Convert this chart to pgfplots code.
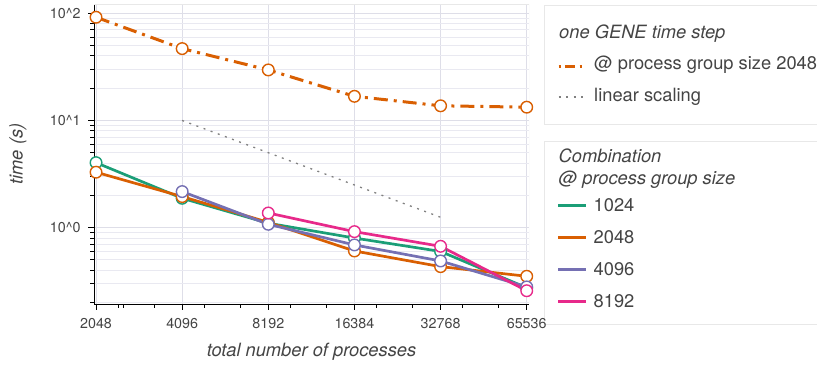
\documentclass[border=0pt]{standalone}
\usepackage{fontspec}
\setmainfont{TeX Gyre Heros}
\usepackage{pgfplots}
\pgfplotsset{compat=1.18}
\definecolor{cGreen}{HTML}{1B9E77}
\definecolor{cOrange}{HTML}{D95F02}
\definecolor{cPurple}{HTML}{7570B3}
\definecolor{cPink}{HTML}{E7298A}
\definecolor{labelgray}{HTML}{444444}
\definecolor{gridmaj}{RGB}{222,222,232}
\definecolor{gridmin}{RGB}{233,233,241}
\definecolor{legborder}{RGB}{232,232,232}
\definecolor{lingray}{RGB}{128,128,128}
\newcommand{\tickfont}{\fontsize{14.3pt}{17pt}\selectfont}
\newcommand{\labfont}{\fontsize{18.3pt}{22pt}\selectfont\itshape}
\begin{document}
\begin{tikzpicture}[x=1pt,y=1pt]
\path[use as bounding box] (0,0) rectangle (817,-368);
\clip (0,0) rectangle (817,-368);
% legend boxes (drawn first, no fill)
\draw[legborder, line width=1pt] (544,-5) rectangle (850,-124);
\draw[legborder, line width=1pt] (544,-141) rectangle (850,-324);
\begin{axis}[
  at={(94pt,-304pt)}, anchor=south west,
  scale only axis, width=435pt, height=300pt,
  xmode=log, ymode=log,
  xmin=2015, xmax=66762, ymin=0.194, ymax=122,
  axis x line*=bottom, axis y line*=left,
  axis line style={black, line width=1pt, -},
  tick align=outside,
  major tick length=6pt, minor tick length=4pt,
  every tick/.style={black, line width=1pt},
  xtick={2048,4096,8192,16384,32768,65536},
  xticklabels={2048,4096,8192,16384,32768,65536},
  minor xtick={2452,2550,3273,4903,6545,9806,13091,19612,26182,39223,52364},
  ytick={1,10,100},
  yticklabels={10\textasciicircum0,10\textasciicircum1,10\textasciicircum2},
  minor ytick={0.2,0.3,0.4,0.5,0.6,0.7,0.8,0.9,2,3,4,5,6,7,8,9,20,30,40,50,60,70,80,90},
  xmajorgrids, ymajorgrids, yminorgrids,
  major grid style={gridmaj, line width=1pt},
  minor grid style={gridmin, line width=1pt},
  ticklabel style={font=\tickfont, text=labelgray},
  xticklabel style={yshift=-5pt},
  yticklabel style={xshift=-4pt},
  xlabel={total number of processes},
  ylabel={time (s)},
  xlabel style={font=\labfont, text=labelgray, at={(axis description cs:0.5,-0.16)}, anchor=center},
  ylabel style={font=\labfont, text=labelgray, at={(axis description cs:-0.1747,0.5)}, anchor=center},
  every axis plot/.append style={line width=2.7pt},
  mark size=5.8pt,
]
\draw[legborder, line width=1pt] (rel axis cs:0,1) -- (rel axis cs:1,1) -- (rel axis cs:1,0);
% linear scaling
\addplot[lingray, line width=1.3pt, dash pattern=on 2pt off 5.6pt, no markers] coordinates {
(4096,10) (8192,5) (16384,2.5) (32768,1.25)};
% one GENE time step
\addplot[cOrange, line width=3pt, dash pattern=on 14pt off 6pt on 3pt off 6pt, mark=*, mark options={solid, fill=white, draw=cOrange, line width=1.4pt}] coordinates {
(2048,91.8) (4096,46.8) (8192,29.6) (16384,16.8) (32768,13.7) (65536,13.3)};
% 1024
\addplot[cGreen, mark=*, mark options={fill=white, draw=cGreen, line width=1.4pt}] coordinates {
(2048,4.04) (4096,1.88) (8192,1.10) (16384,0.80) (32768,0.60) (65536,0.275)};
% 2048
\addplot[cOrange, mark=*, mark options={fill=white, draw=cOrange, line width=1.4pt}] coordinates {
(2048,3.29) (4096,1.95) (8192,1.12) (16384,0.606) (32768,0.433) (65536,0.352)};
% 4096
\addplot[cPurple, mark=*, mark options={fill=white, draw=cPurple, line width=1.4pt}] coordinates {
(4096,2.17) (8192,1.075) (16384,0.69) (32768,0.489) (65536,0.28)};
% 8192
\addplot[cPink, mark=*, mark options={fill=white, draw=cPink, line width=1.4pt}] coordinates {
(8192,1.37) (16384,0.918) (32768,0.67) (65536,0.258)};
\end{axis}
% legend 1 contents
\node[anchor=base west, inner sep=0, font=\labfont, text=labelgray] at (559,-38.5) {one GENE time step};
\draw[cOrange, line width=3pt, dash pattern=on 2.5pt off 4pt on 10pt off 4.5pt on 2.5pt off 20pt] (558.5,-66) -- (582,-66);
\node[anchor=base west, inner sep=0, font=\fontsize{18.3pt}{22pt}\selectfont, text=labelgray] at (594,-69.5) {@ process group size 2048};
\draw[lingray, line width=1.3pt, dash pattern=on 2pt off 5.6pt] (558.5,-97) -- (584,-97);
\node[anchor=base west, inner sep=0, font=\fontsize{18.3pt}{22pt}\selectfont, text=labelgray] at (594,-101.5) {linear scaling};
% legend 2 contents
\node[anchor=base west, inner sep=0, font=\labfont, text=labelgray] at (558.5,-162.5) {Combination};
\node[anchor=base west, inner sep=0, font=\labfont, text=labelgray] at (558.5,-184) {@ process group size};
\draw[cGreen, line width=3pt] (558,-205) -- (586,-205);
\node[anchor=base west, inner sep=0, font=\fontsize{18.3pt}{22pt}\selectfont, text=labelgray] at (593.5,-211.7) {1024};
\draw[cOrange, line width=3pt] (558,-237) -- (586,-237);
\node[anchor=base west, inner sep=0, font=\fontsize{18.3pt}{22pt}\selectfont, text=labelgray] at (593.5,-243.3) {2048};
\draw[cPurple, line width=3pt] (558,-269) -- (586,-269);
\node[anchor=base west, inner sep=0, font=\fontsize{18.3pt}{22pt}\selectfont, text=labelgray] at (593.5,-275) {4096};
\draw[cPink, line width=3pt] (558,-301.5) -- (586,-301.5);
\node[anchor=base west, inner sep=0, font=\fontsize{18.3pt}{22pt}\selectfont, text=labelgray] at (593.5,-307.3) {8192};
\end{tikzpicture}
\end{document}
